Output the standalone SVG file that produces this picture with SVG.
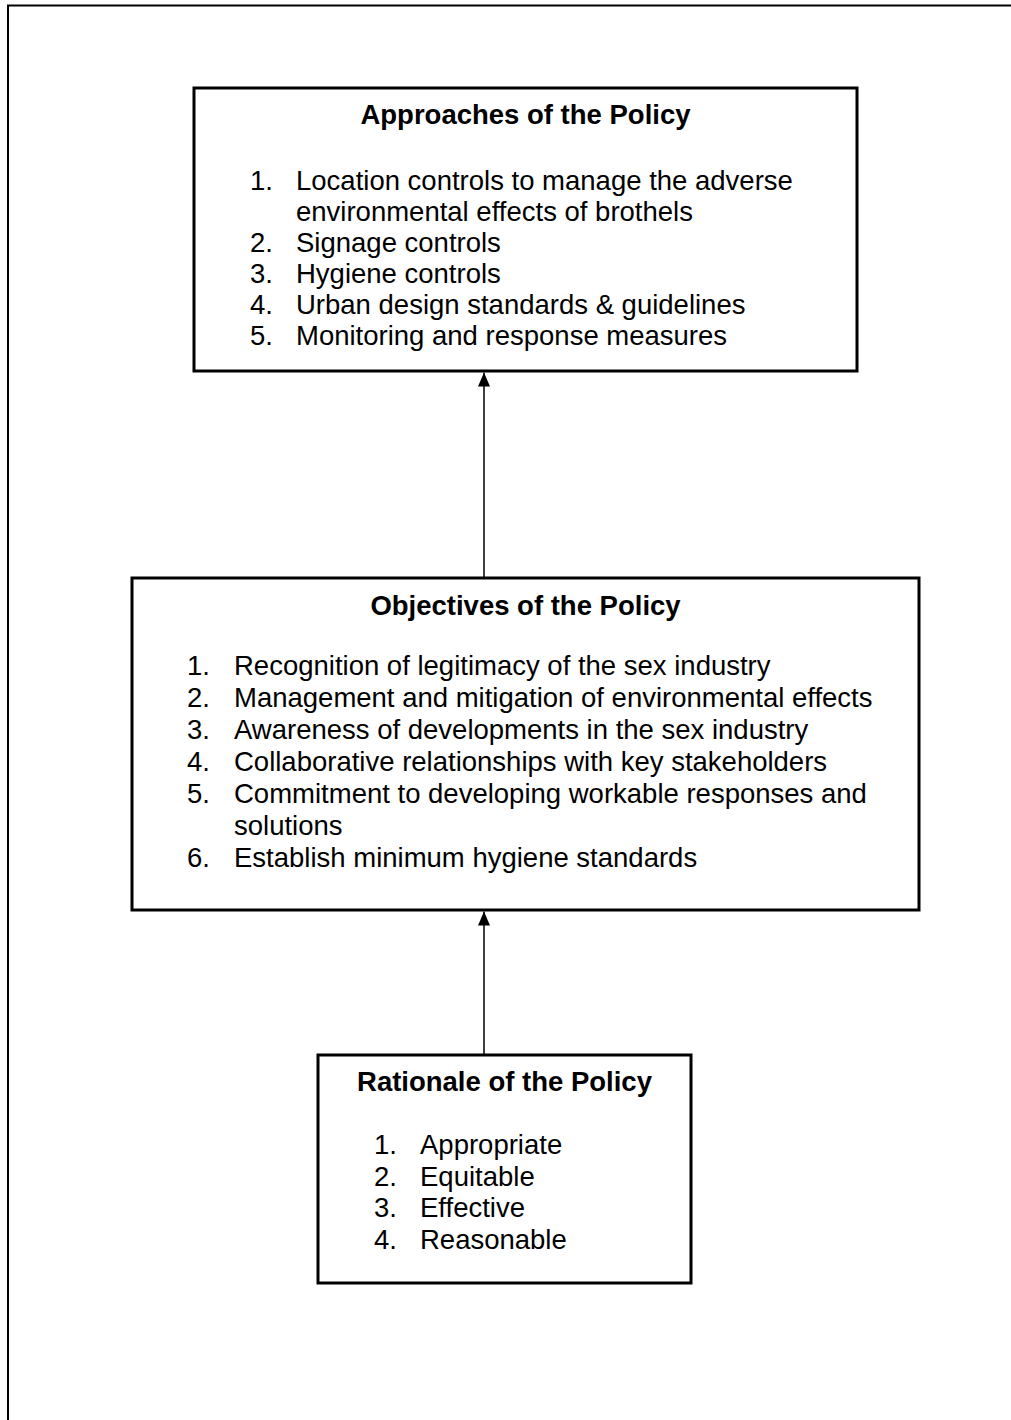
<svg xmlns="http://www.w3.org/2000/svg" width="1011" height="1420" viewBox="0 0 1011 1420">
  <style>
    .box { fill: #ffffff; stroke: #000000; stroke-width: 3; }
    .frame { fill: none; stroke: #000000; stroke-width: 2; }
    .title { font-family: "Liberation Sans", Arial, sans-serif; font-size: 27.5px; font-weight: bold; fill: #000000; text-anchor: middle; }
    .item { font-family: "Liberation Sans", Arial, sans-serif; font-size: 27.5px; fill: #000000; }
    .link { stroke: #000000; stroke-width: 1.5; fill: none; }
  </style>
  <defs>
    <!-- filled triangular head, tip at the end of the line -->
    <marker id="arrow" viewBox="0 0 14 12" refX="14" refY="6" markerWidth="14" markerHeight="12" markerUnits="userSpaceOnUse" orient="auto">
      <path d="M0,0 L14,6 L0,12 Z" fill="#000000"/>
    </marker>
  </defs>

  <rect width="1011" height="1420" fill="#ffffff"/>

  <!-- page frame: top and left edges -->
  <path class="frame" d="M8,1420 L8,5.5 L1011,5.5"/>

  <!-- connectors -->
  <g id="connectors">
    <line class="link" x1="484" y1="578" x2="484" y2="372.5" marker-end="url(#arrow)"/>
    <line class="link" x1="484" y1="1055" x2="484" y2="911.5" marker-end="url(#arrow)"/>
  </g>

  <g id="approaches">
    <rect class="box" x="194" y="88" width="663" height="283"/>
    <text class="title" x="525.5" y="124">Approaches of the Policy</text>
    <text class="item" x="250" y="190">1.</text>
    <text class="item" x="296" y="190">Location controls to manage the adverse</text>
    <text class="item" x="296" y="221">environmental effects of brothels</text>
    <text class="item" x="250" y="252">2.</text>
    <text class="item" x="296" y="252">Signage controls</text>
    <text class="item" x="250" y="283">3.</text>
    <text class="item" x="296" y="283">Hygiene controls</text>
    <text class="item" x="250" y="314">4.</text>
    <text class="item" x="296" y="314">Urban design standards &amp; guidelines</text>
    <text class="item" x="250" y="345">5.</text>
    <text class="item" x="296" y="345">Monitoring and response measures</text>
  </g>

  <g id="objectives">
    <rect class="box" x="132" y="578" width="787" height="332"/>
    <text class="title" x="525.5" y="615">Objectives of the Policy</text>
    <text class="item" x="187" y="675">1.</text>
    <text class="item" x="234" y="675">Recognition of legitimacy of the sex industry</text>
    <text class="item" x="187" y="707">2.</text>
    <text class="item" x="234" y="707">Management and mitigation of environmental effects</text>
    <text class="item" x="187" y="739">3.</text>
    <text class="item" x="234" y="739">Awareness of developments in the sex industry</text>
    <text class="item" x="187" y="771">4.</text>
    <text class="item" x="234" y="771">Collaborative relationships with key stakeholders</text>
    <text class="item" x="187" y="803">5.</text>
    <text class="item" x="234" y="803">Commitment to developing workable responses and</text>
    <text class="item" x="234" y="835">solutions</text>
    <text class="item" x="187" y="867">6.</text>
    <text class="item" x="234" y="867">Establish minimum hygiene standards</text>
  </g>

  <g id="rationale">
    <rect class="box" x="318" y="1055" width="373" height="228"/>
    <text class="title" x="504.5" y="1091">Rationale of the Policy</text>
    <text class="item" x="374" y="1154">1.</text>
    <text class="item" x="420" y="1154">Appropriate</text>
    <text class="item" x="374" y="1186">2.</text>
    <text class="item" x="420" y="1186">Equitable</text>
    <text class="item" x="374" y="1217">3.</text>
    <text class="item" x="420" y="1217">Effective</text>
    <text class="item" x="374" y="1249">4.</text>
    <text class="item" x="420" y="1249">Reasonable</text>
  </g>
</svg>
